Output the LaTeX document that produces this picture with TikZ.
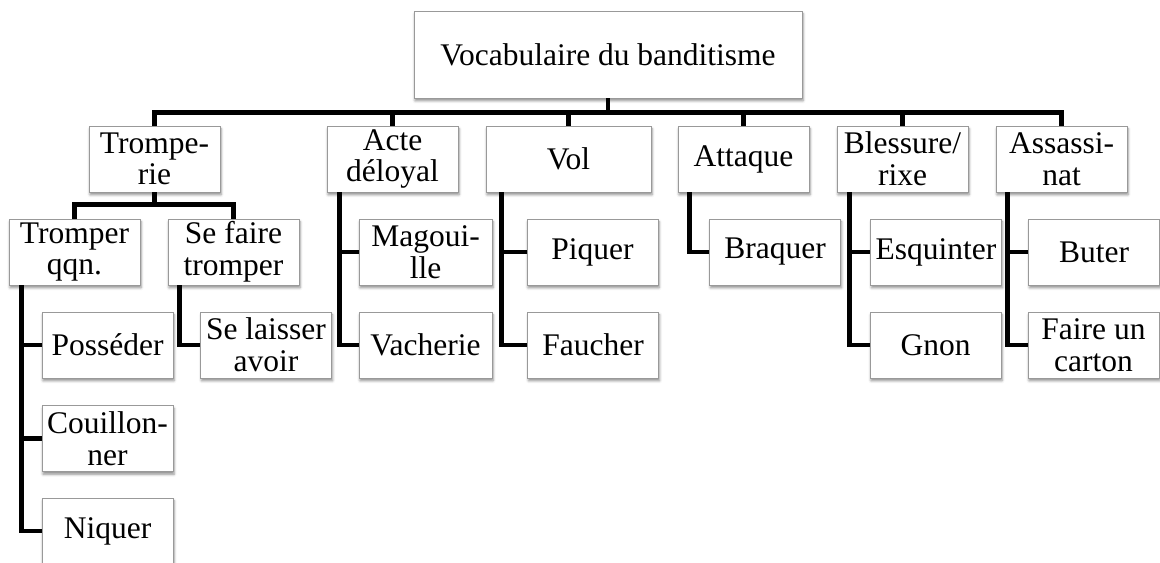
\documentclass[tikz,border=0pt]{standalone}
\usepackage{fontspec}
\setmainfont{Liberation Serif}
\usetikzlibrary{shadows.blur}

\begin{document}
\begin{tikzpicture}[x=0.5pt,y=-0.5pt,
  box/.style={rectangle, draw=black!40, fill=white, align=center,
    minimum width=65.5pt, minimum height=33pt, inner sep=1pt,
    font=\fontsize{15.75}{15.8}\selectfont,
    blur shadow={shadow xshift=0.5pt, shadow yshift=-1.4pt, shadow blur radius=1.3pt, shadow opacity=45}},
  link/.style={line width=2.2pt, black}]
\useasboundingbox (0,0) rectangle (1160,562);
\node[box, minimum width=194pt, minimum height=43.5pt] (root) at (608,54.5) {Vocabulaire du banditisme};
\node[box] (trom) at (154.5,159) {Trompe-\\rie};
\node[box] (acte) at (392.5,159) {Acte\\déloyal};
\node[box, minimum width=82.5pt] (vol) at (568.5,159) {Vol};
\node[box] (att) at (743.5,159) {Attaque};
\node[box] (bles) at (902.5,159) {Blessure/\\rixe};
\node[box] (assa) at (1061.5,159) {Assassi-\\nat};
\node[box] (tq) at (74.5,252) {Tromper\\qqn.};
\node[box] (sf) at (233.5,252) {Se faire\\tromper};
\node[box] (poss) at (107.5,345) {Posséder};
\node[box] (couil) at (107.5,438.5) {Couillon-\\ner};
\node[box] (niq) at (107.5,531) {Niquer};
\node[box] (slais) at (266,345) {Se laisser\\avoir};
\node[box, minimum width=66.5pt] (mag) at (425.5,252) {Magoui-\\lle};
\node[box, minimum width=66.5pt] (vach) at (425.5,345) {Vacherie};
\node[box] (piq) at (592.5,252) {Piquer};
\node[box] (fau) at (593,345) {Faucher};
\node[box] (braq) at (775,252) {Braquer};
\node[box] (esq) at (936,252) {Esquinter};
\node[box] (gnon) at (935.5,345) {Gnon};
\node[box] (but) at (1094,252) {Buter};
\node[box] (cart) at (1093.5,345) {Faire un\\carton};
\draw[link] (root.south) -- ++(0,14) -| (trom.north);
\draw[link] (root.south) -- ++(0,14) -| (acte.north);
\draw[link] (root.south) -- ++(0,14) -| (vol.north);
\draw[link] (root.south) -- ++(0,14) -| (att.north);
\draw[link] (root.south) -- ++(0,14) -| (bles.north);
\draw[link] (root.south) -- ++(0,14) -| (assa.north);
\draw[link] (trom.south) -- ++(0,12) -| (tq.north);
\draw[link] (trom.south) -- ++(0,12) -| (sf.north);
\draw[link] ([xshift=6.5pt]tq.south west) |- (poss.west);
\draw[link] ([xshift=6.5pt]tq.south west) |- (couil.west);
\draw[link] ([xshift=6.5pt]tq.south west) |- (niq.west);
\draw[link] ([xshift=6pt]sf.south west) |- (slais.west);
\draw[link] ([xshift=6.5pt]acte.south west) |- (mag.west);
\draw[link] ([xshift=6.5pt]acte.south west) |- (vach.west);
\draw[link] ([xshift=8pt]vol.south west) |- (piq.west);
\draw[link] ([xshift=8pt]vol.south west) |- (fau.west);
\draw[link] ([xshift=6pt]att.south west) |- (braq.west);
\draw[link] ([xshift=6.5pt]bles.south west) |- (esq.west);
\draw[link] ([xshift=6.5pt]bles.south west) |- (gnon.west);
\draw[link] ([xshift=6pt]assa.south west) |- (but.west);
\draw[link] ([xshift=6pt]assa.south west) |- (cart.west);
\end{tikzpicture}
\end{document}
